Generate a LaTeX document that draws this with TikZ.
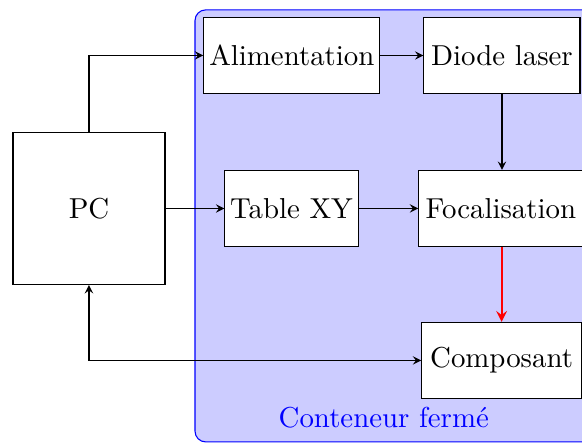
\documentclass[tikz,border=0pt]{standalone}
\usepackage{xcolor}
\usepackage{tikz}
\usetikzlibrary{shapes,arrows,positioning,calc}

\begin{document}
\begin{tikzpicture}[
    >=stealth,
    every node/.style={font=\fontsize{10.8}{13}\selectfont},
    bloc/.style={rectangle, draw, fill=white, minimum height=1cm, inner xsep=2pt},
    fleche/.style={->}
]
    \useasboundingbox (0,0) rectangle (7.658,-5.829);
    % enceinte
    \draw[blue, fill=blue!20, rounded corners] (2.566,-0.13) rectangle (8.2,-5.815);
    \node[blue] (titre) at (5.05,-5.5) {Conteneur fermé};

    \node[bloc, minimum width=2cm, minimum height=2cm] (pc) at (1.171,-2.743) {PC};
    \node[bloc, minimum width=2.316cm] (alim) at (3.84,-0.73) {Alimentation};
    \node[bloc, minimum width=2.053cm] (diode) at (6.605,-0.73) {Diode laser};
    \node[bloc, minimum width=1.592cm] (table) at (3.836,-2.743) {Table XY};
    \node[bloc, minimum width=2.16cm] (foc) at (6.59,-2.743) {Focalisation};
    \node[bloc, minimum width=2.1cm] (comp) at (6.6,-4.743) {Composant};

    \draw[fleche] (pc.north) |- (alim.west);
    \draw[fleche] (alim) -- (diode);
    \draw[fleche] (diode.south) -- (diode.south |- foc.north);
    \draw[fleche] (pc) -- (table);
    \draw[fleche] (table) -- (foc);
    \draw[fleche, red, thick] (foc.south -| comp.north) -- (comp.north);
    \draw[<->] (comp.west) -| (pc.south);
\end{tikzpicture}
\end{document}
